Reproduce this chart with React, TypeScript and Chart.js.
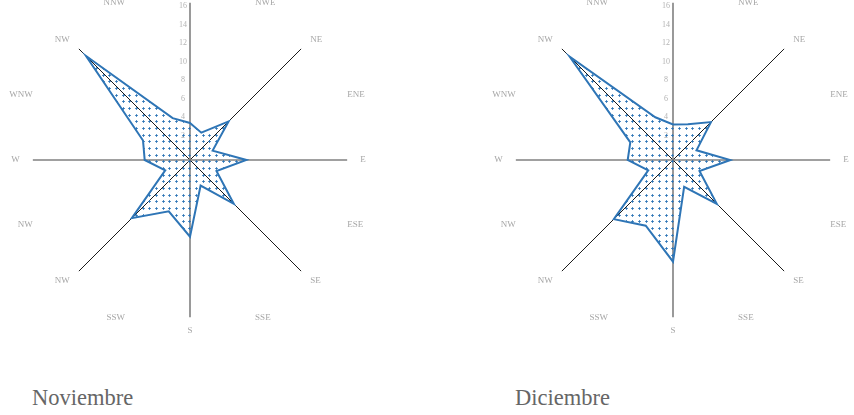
import React, { useEffect, useRef } from 'react';
import { Chart, registerables } from 'chart.js';

Chart.register(...registerables);

const directions = ['N', 'NWE', 'NE', 'ENE', 'E', 'ESE', 'SE', 'SSE', 'S', 'SSW', 'NW', 'NW', 'W', 'WNW', 'NW', 'NNW'];
const noviembre = [4.0, 3.2, 5.9, 2.65, 6.1, 3.1, 6.7, 3.0, 8.3, 6.0, 8.9, 2.9, 4.9, 5.5, 15.9, 4.9];
const diciembre = [3.85, 4.2, 5.8, 2.75, 6.2, 3.1, 6.7, 3.15, 11.0, 7.7, 9.05, 2.9, 4.9, 5.0, 15.8, 5.0];
const scaleMin = 0;
const scaleMax = 17;
const tickStep = 2;
const titles = ['Noviembre', 'Diciembre'];

const BLUE = '#2e75b6';

function makePattern(): CanvasPattern | string {
  const c = document.createElement('canvas');
  c.width = 20;
  c.height = 20;
  const g = c.getContext('2d');
  if (!g) return 'rgba(46,117,182,0.2)';
  const offs = [1, 8, 15];
  for (const oy of offs) {
    for (const ox of offs) {
      g.fillStyle = 'rgba(46,117,182,0.8)';
      g.fillRect(ox + 1, oy, 1, 3);
      g.fillRect(ox, oy + 1, 3, 1);
      g.fillStyle = BLUE;
      g.fillRect(ox + 1, oy + 1, 1, 1);
    }
  }
  return g.createPattern(c, 'repeat') || 'rgba(46,117,182,0.2)';
}

const tickShift = {
  id: 'tickShift',
  afterLayout(chart: any) {
    const s: any = chart.scales.r;
    if (s && !s.__shifted) {
      const orig = s.drawLabels.bind(s);
      s.drawLabels = (area: any) => {
        const ctx = chart.ctx;
        ctx.save();
        ctx.translate(-7, -6);
        orig(area);
        ctx.restore();
      };
      s.__shifted = true;
    }
  },
};

function Radar({ values }: { values: number[] }) {
  const ref = useRef<HTMLCanvasElement | null>(null);
  useEffect(() => {
    if (!ref.current) return;
    const chart = new Chart(ref.current, {
      type: 'radar',
      data: {
        labels: directions,
        datasets: [
          {
            data: values,
            borderColor: BLUE,
            borderWidth: 2,
            backgroundColor: makePattern() as any,
            fill: true,
            pointRadius: 0,
            pointHoverRadius: 0,
            tension: 0,
          },
        ],
      },
      options: {
        animation: false,
        responsive: true,
        maintainAspectRatio: false,
        plugins: { legend: { display: false }, tooltip: { enabled: false } },
        layout: { padding: 0 },
        scales: {
          r: {
            min: scaleMin,
            max: scaleMax,
            grid: { display: false },
            angleLines: {
              display: true,
              color: (c: any) => (c.index % 4 === 0 ? '#808080' : c.index % 2 === 0 ? '#1a1a1a' : 'rgba(0,0,0,0)'),
              lineWidth: (c: any) => (c.index % 4 === 0 ? 1.6 : c.index % 2 === 0 ? 1 : 0),
            },
            ticks: {
              stepSize: tickStep,
              showLabelBackdrop: false,
              backdropPadding: 0,
              color: '#b3b3b3',
              font: { family: 'Liberation Serif', size: 8 },
              callback: (v: any) => (v > 16 ? '' : String(v)),
            },
            pointLabels: {
              color: '#a6a6a6',
              padding: 9,
              font: { family: 'Liberation Serif', size: 9, lineHeight: 0 },
            },
          },
        },
      },
      plugins: [tickShift],
    });
    return () => chart.destroy();
  }, []);
  return <canvas ref={ref} />;
}

export default function App() {
  const W = 362;
  const H = 362;
  const boxes = [
    { left: 7, top: -21 },
    { left: 490, top: -21 },
  ];
  return (
    <div style={{ position: 'fixed', left: 0, top: 0, width: 854, height: 415, overflow: 'hidden', background: '#fff' }}>
      {[noviembre, diciembre].map((vals, i) => (
        <div key={i} style={{ position: 'absolute', left: boxes[i].left, top: boxes[i].top, width: W, height: H }}>
          <Radar values={vals} />
        </div>
      ))}
      {titles.map((t, i) => (
        <div key={t} style={{ position: 'absolute', left: i === 0 ? 32 : 515, top: 385, fontFamily: 'Liberation Serif', fontSize: 22.5, color: '#666', lineHeight: 'normal' }}>
          {t}
        </div>
      ))}
    </div>
  );
}
